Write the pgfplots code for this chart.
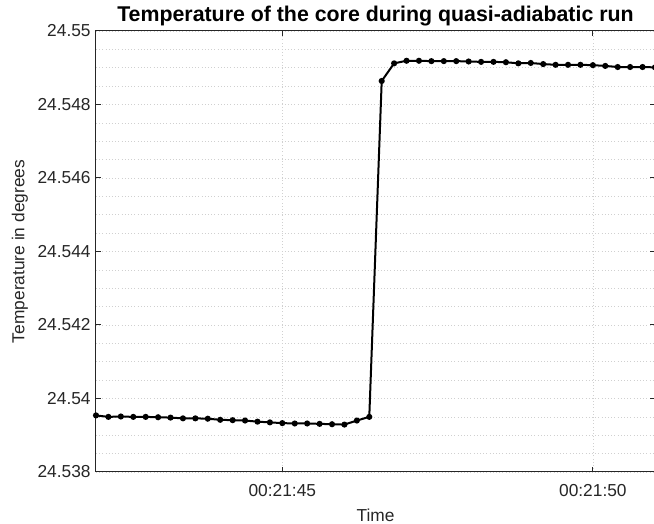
\documentclass[border=0pt]{standalone}
\usepackage{fontspec}
\setmainfont{Liberation Sans}
\usepackage{pgfplots}
\pgfplotsset{compat=1.18}

\definecolor{axgray}{HTML}{262626}
\definecolor{gridgray}{HTML}{D0D0D0}

\begin{document}
\begin{tikzpicture}
  % page = 654x524 px at 0.75pt per px, axis box from px 96 to 655, 31 to 472
  \path[use as bounding box] (-72pt,-39pt) rectangle (418.5pt,354pt);
  \begin{axis}[
      scale only axis,
      width=419.25pt,
      height=330.75pt,
      xmin=42, xmax=51,
      ymin=24.538, ymax=24.55,
      xtick={45,50},
      xticklabels={00:21:45,00:21:50},
      ytick={24.538,24.540,24.542,24.544,24.546,24.548,24.550},
      scaled y ticks=false,
      minor y tick num=3,
      minor tick length=0pt,
      major tick length=3.75pt,
      tick align=inside,
      grid=both,
      major grid style={gridgray, dotted, line width=0.5pt},
      minor grid style={gridgray, dotted, line width=0.5pt},
      minor x tick num=0,
      axis line style={axgray, line width=0.75pt},
      tick style={axgray, line width=0.75pt},
      font=\fontsize{13pt}{15pt}\selectfont,
      ticklabel style={text=axgray},
      yticklabel style={anchor=east, xshift=-0.5pt,
        /pgf/number format/fixed,
        /pgf/number format/precision=3,
        /pgf/number format/assume math mode=true},
      xticklabel style={anchor=center, yshift=-14pt},
      every axis title shift=0pt,
      title={\bfseries Temperature of the core during quasi-adiabatic run},
      title style={at={(axis description cs:0.5,1.033)}, anchor=center, font=\fontsize{16pt}{18pt}\selectfont},
      xlabel={Time},
      ylabel={Temperature in degrees},
      x label style={at={(axis description cs:0.5,-0.0975)}, anchor=center, text=axgray},
      y label style={at={(axis description cs:-0.1362,0.5)}, anchor=center, text=axgray},
  ]
    \addplot[black, line width=1.5pt, mark=*, mark size=1.5pt] coordinates {
      (42.0,24.53954) (42.2,24.53950) (42.4,24.53951) (42.6,24.53950)
      (42.8,24.53950) (43.0,24.53949) (43.2,24.53948) (43.4,24.53946)
      (43.6,24.53946) (43.8,24.53945) (44.0,24.53942) (44.2,24.53941)
      (44.4,24.53940) (44.6,24.53937) (44.8,24.53935) (45.0,24.53933)
      (45.2,24.53932) (45.4,24.53932) (45.6,24.53931) (45.8,24.53930)
      (46.0,24.53929) (46.2,24.53940) (46.4,24.53950) (46.6,24.54864)
      (46.8,24.54912) (47.0,24.54919) (47.2,24.54919) (47.4,24.54918)
      (47.6,24.54918) (47.8,24.54918) (48.0,24.54917) (48.2,24.54916)
      (48.4,24.54916) (48.6,24.54915) (48.8,24.54912) (49.0,24.54913)
      (49.2,24.54910) (49.4,24.54908) (49.6,24.54908) (49.8,24.54908)
      (50.0,24.54907) (50.2,24.54905) (50.4,24.54902) (50.6,24.54902)
      (50.8,24.54902) (51.0,24.54901)
    };
  \end{axis}
\end{tikzpicture}
\end{document}
